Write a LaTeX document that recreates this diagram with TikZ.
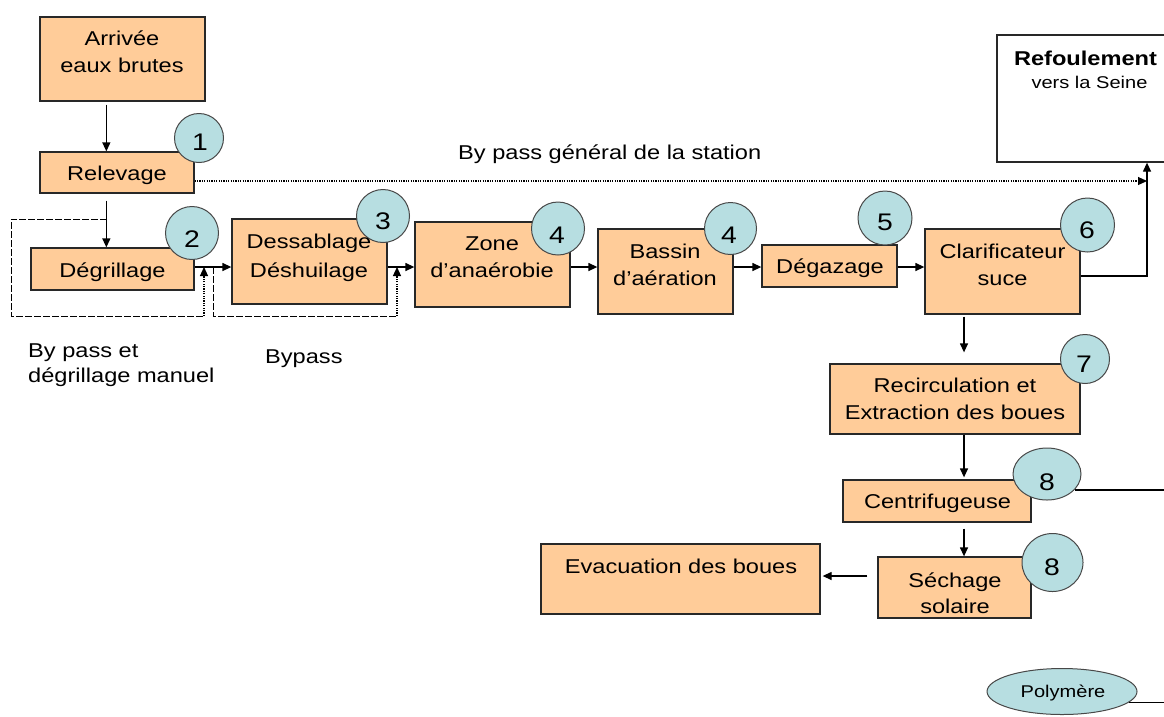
\documentclass[tikz,border=0pt]{standalone}
\usepackage{fontspec}
\setmainfont{Liberation Sans}[FakeStretch=1.18]
\usetikzlibrary{arrows.meta,shapes.geometric,calc}

\definecolor{boxfill}{RGB}{255,204,153}
\definecolor{stepfill}{RGB}{183,222,225}
\definecolor{edge}{RGB}{40,40,40}

\begin{document}
\begin{tikzpicture}[x=1pt,y=-1pt,
  box/.style={rectangle, draw=edge, line width=1.3pt, fill=boxfill, inner sep=0pt},
  num/.style={circle, draw=edge!85, line width=1pt, fill=stepfill, inner sep=0pt},
  numell/.style={ellipse, draw=edge!85, line width=1pt, fill=stepfill, inner sep=0pt},
  txt/.style={anchor=base, inner sep=0pt, font=\fontsize{20}{24}\selectfont},
  lbl/.style={anchor=base west, inner sep=0pt, font=\fontsize{20}{24}\selectfont},
  digit/.style={anchor=base, inner sep=0pt, font=\fontsize{24}{28}\selectfont},
  tip/.style={-{Triangle[length=9pt,width=8pt]}},
  flow/.style={line width=1.3pt, draw=black, tip},
  plain/.style={line width=1.3pt, draw=black},
  dashline/.style={line width=1pt, draw=black, dash pattern=on 7pt off 2pt},
  dotline/.style={line width=1.1pt, draw=black, dash pattern=on 1.2pt off 1.2pt},
]
\useasboundingbox (0,0) rectangle (1164,716);

% process boxes
\node[box, minimum width=165pt, minimum height=84pt] (arr) at (122.5,59) {};
\node[box, minimum width=154pt, minimum height=41pt] (rel) at (117,172.5) {};
\node[box, minimum width=163pt, minimum height=42pt] (deg) at (112.5,269) {};
\node[box, minimum width=155pt, minimum height=85pt] (des) at (309.5,261.5) {};
\node[box, minimum width=155pt, minimum height=85pt] (zone) at (492.5,264.5) {};
\node[box, minimum width=135pt, minimum height=85pt] (bas) at (665.5,271.5) {};
\node[box, minimum width=135pt, minimum height=42pt] (dgz) at (829.5,266) {};
\node[box, minimum width=155pt, minimum height=85pt] (cla) at (1002.5,271.5) {};
\node[box, minimum width=250pt, minimum height=70pt] (rec) at (955,399) {};
\node[box, minimum width=188pt, minimum height=42pt] (cen) at (937,501) {};
\node[box, minimum width=153pt, minimum height=61pt] (sec) at (954.5,587.5) {};
\node[box, minimum width=279pt, minimum height=70pt] (eva) at (680.5,579) {};
\node[rectangle, draw=edge, line width=1.3pt, fill=white, inner sep=0pt,
      minimum width=203pt, minimum height=127pt] (ref) at (1098.5,98.5) {};

% reference coordinates for the connectors
\coordinate (mainline) at (0,267);
\coordinate (retour) at (1147,181);
\coordinate (col) at (964,0);
\coordinate (bord) at (1180,0);
\coordinate (bp1a) at (107,219);
\coordinate (bp1b) at (11,316);
\coordinate (bp1c) at (204,316);
\coordinate (bp2a) at (213,267);
\coordinate (bp2b) at (397,316);

% inlet and lifting
\draw[flow, shorten <=3pt] ([xshift=67pt]arr.south west) -- ([xshift=67pt]rel.north west);
\draw[flow, shorten <=7pt] ([xshift=67pt]rel.south west) -- ([xshift=76pt]deg.north west);

% by-pass loops
\draw[dashline] (bp1a) -| (bp1b) -- (bp1c);
\draw[dotline, tip] (bp1c) -- (bp1c |- mainline);
\draw[dashline] (bp2a) |- (bp2b);
\draw[dotline, tip] (bp2b) -- (bp2b |- mainline);

% main treatment line
\draw[flow] (deg.east |- mainline) -- (des.west |- mainline);
\draw[flow] (des.east |- mainline) -- (zone.west |- mainline);
\draw[flow] (zone.east |- mainline) -- (bas.west |- mainline);
\draw[flow] (bas.east |- mainline) -- (dgz.west |- mainline);
\draw[flow] (dgz.east |- mainline) -- (cla.west |- mainline);

% general by-pass and discharge
\draw[dotline, tip] (rel.east |- retour) -- (retour);
\draw[flow] ([yshift=-4.5pt]cla.east) -| (ref.south -| retour);

% sludge line
\draw[flow, shorten <=2pt, shorten >=11pt] (cla.south -| col) -- (rec.north -| col);
\draw[flow, shorten >=2pt] (rec.south -| col) -- (cen.north -| col);
\draw[flow, shorten <=6pt] (cen.south -| col) -- (sec.north -| col);
\draw[flow, shorten <=10pt, shorten >=2pt] ([yshift=11.5pt]sec.west) -- ([yshift=11.5pt]sec.west -| eva.east);

% step markers
\node[num, minimum size=49pt] (c1) at (199,138) {};
\node[num, minimum size=53pt] (c2) at (192,233) {};
\node[num, minimum size=53pt] (c3) at (383,216) {};
\node[num, minimum size=53pt] (c4a) at (558,228.5) {};
\node[num, minimum size=52pt] (c4b) at (730.5,228.5) {};
\node[num, minimum size=54pt] (c5) at (885,218) {};
\node[num, minimum size=54pt] (c6) at (1087.5,225) {};
\node[num, minimum size=49pt] (c7) at (1085,359) {};
\node[numell, minimum width=68pt, minimum height=52pt] (c8a) at (1047,474) {};
\node[numell, minimum width=61pt, minimum height=58pt] (c8b) at (1052.5,562.5) {};
\node[numell, minimum width=150pt, minimum height=46pt] (poly) at (1062,691.5) {};

% outgoing lines on the right
\draw[plain] (c8a.-30) -- (c8a.-30 -| bord);
\draw[plain] (poly.-9) -- (poly.-9 -| bord);

% step numbers
\node[digit] (d1) at (200,150) {1};
\node[digit] (d2) at (192,247) {2};
\node[digit] (d3) at (383,229) {3};
\node[digit] (d4a) at (557,243) {4};
\node[digit] (d4b) at (729,243) {4};
\node[digit] (d5) at (885,230) {5};
\node[digit] (d6) at (1087,238) {6};
\node[digit] (d7) at (1084,372) {7};
\node[digit] (d8a) at (1047,490) {8};
\node[digit] (d8b) at (1052,575) {8};

% box texts
\node[txt] (tArr1) at (122,45) {Arrivée};
\node[txt] (tArr2) at (122,72.5) {eaux brutes};
\node[txt] (tRel) at (117,180) {Relevage};
\node[txt] (tDeg) at (112.5,277) {Dégrillage};
\node[txt] (tDes1) at (309,248) {Dessablage};
\node[txt] (tDes2) at (309,277) {Déshuilage};
\node[txt] (tZone1) at (492,250) {Zone};
\node[txt] (tZone2) at (492,277) {d’anaérobie};
\node[txt] (tBas1) at (665,258) {Bassin};
\node[txt] (tBas2) at (665,285) {d’aération};
\node[txt] (tDgz) at (830,273) {Dégazage};
\node[txt] (tCla1) at (1002.5,258) {Clarificateur};
\node[txt] (tCla2) at (1002.5,285) {suce};
\node[txt] (tRec1) at (955,392) {Recirculation et};
\node[txt] (tRec2) at (955,419) {Extraction des boues};
\node[txt] (tCen) at (937.5,508) {Centrifugeuse};
\node[txt] (tSec1) at (955,587) {Séchage};
\node[txt] (tSec2) at (955,613) {solaire};
\node[txt] (tEva) at (681,573) {Evacuation des boues};
\node[txt, font=\bfseries\fontsize{20}{24}\selectfont] (tRef1) at (1085.5,65) {Refoulement};
\node[txt, font=\fontsize{17}{20}\selectfont] (tRef2) at (1089.5,88) {vers la Seine};
\node[txt, font=\fontsize{17}{20}\selectfont] (tPoly) at (1063,697) {Polymère};

% free labels
\node[lbl] (tGen) at (458,159) {By pass général de la station};
\node[lbl] (tBp1a) at (28,357) {By pass et};
\node[lbl] (tBp1b) at (28,382) {dégrillage manuel};
\node[lbl] (tBp2) at (265,363) {Bypass};
\end{tikzpicture}
\end{document}
